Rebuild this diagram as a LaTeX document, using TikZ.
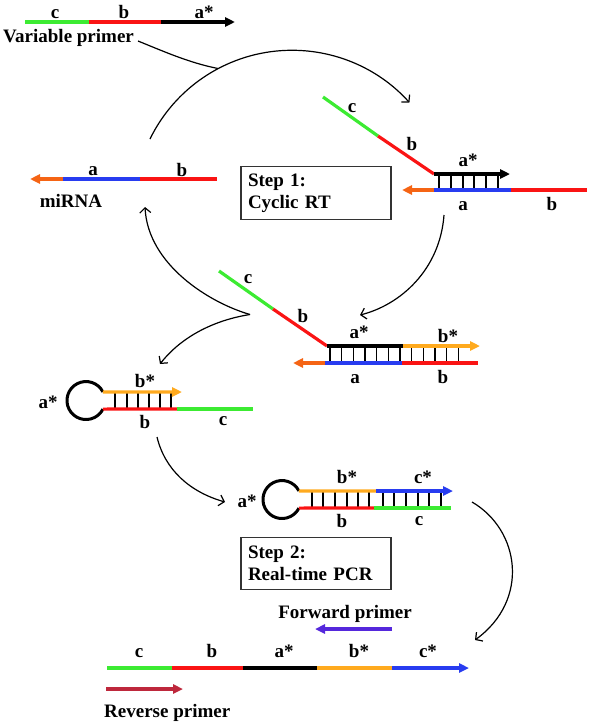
\documentclass[tikz,border=0pt]{standalone}
\usepackage{fontspec}
\setmainfont{Liberation Serif}
\usetikzlibrary{arrows.meta}
\definecolor{cgreen}{RGB}{60,235,50}
\definecolor{cred}{RGB}{250,20,20}
\definecolor{cblue}{RGB}{40,60,240}
\definecolor{corange}{RGB}{245,100,20}
\definecolor{cyellow}{RGB}{255,170,30}
\definecolor{cpurple}{RGB}{85,40,220}
\definecolor{ccrimson}{RGB}{190,40,60}
\begin{document}
\begin{tikzpicture}[x=1pt,y=-1pt,
  strand/.style={line width=3.2pt},
  tipd/.style={-{Triangle[length=10pt,width=9pt]}},
  rung/.style={line width=1.3pt},
  loopc/.style={line width=3pt},
  flow/.style={line width=1.2pt,-{Straight Barb[length=5pt,width=11pt]}},
  flowplain/.style={line width=1.2pt},
  lbl/.style={font=\bfseries\fontsize{19}{22}\selectfont, inner sep=0pt, anchor=base},
  stepbox/.style={draw=black!80, line width=1.2pt, minimum width=150pt, minimum height=52pt,
     align=left, text width=136pt, inner sep=7pt, font=\bfseries\fontsize{19}{22}\selectfont}
]
\useasboundingbox (0,0) rectangle (589,723);

% ---------- top: variable primer ----------
\coordinate (vp0) at (25,22);
\coordinate (vp1) at (89,22);
\coordinate (vp2) at (161,22);
\coordinate (vp3) at (235,22);
\draw[strand,cgreen] (vp0) -- (vp1);
\draw[strand,cred] (vp1) -- (vp2);
\draw[strand,black,tipd] (vp2) -- (vp3);
\node[lbl] (vpc) at (55,18) {c};
\node[lbl] (vpb) at (124,18) {b};
\node[lbl] (vpa) at (204,18) {a*};
\node[lbl,anchor=base west] (vptxt) at (3,42) {Variable primer};

% ---------- miRNA ----------
\coordinate (mi0) at (30,179);
\coordinate (mi1) at (63,179);
\coordinate (mi2) at (140,179);
\coordinate (mi3) at (217,179);
\draw[strand,corange,tipd] (mi1) -- (mi0);
\draw[strand,cblue] (mi1) -- (mi2);
\draw[strand,cred] (mi2) -- (mi3);
\node[lbl] (mia) at (93,175) {a};
\node[lbl] (mib) at (182,176) {b};
\node[lbl] (mitxt) at (71,207) {miRNA};

% ---------- Step 1 box ----------
\node[stepbox] (step1) at (316,193) {Step 1:\\Cyclic RT};

% ---------- cyclic RT duplex ----------
\coordinate (rc0) at (323,97);
\coordinate (rc1) at (378,136);
\coordinate (rc2) at (434,174);
\coordinate (rc3) at (510,174);
\coordinate (rb0) at (402,190);
\coordinate (rb1) at (434,190);
\coordinate (rb2) at (511,190);
\coordinate (rb3) at (587,190);
\foreach \x in {439,451,463,474,486,498} \draw[rung] (\x,174) -- (\x,190);
\draw[strand,cgreen] (rc0) -- (rc1);
\draw[strand,cred] (rc1) -- (rc2);
\draw[strand,black,tipd] (rc2) -- (rc3);
\draw[strand,corange,tipd] (rb1) -- (rb0);
\draw[strand,cblue] (rb1) -- (rb2);
\draw[strand,cred] (rb2) -- (rb3);
\node[lbl] (rcc) at (352,112) {c};
\node[lbl] (rcb) at (412,150) {b};
\node[lbl] (rca) at (468,166) {a*};
\node[lbl] (rba) at (463,210) {a};
\node[lbl] (rbb) at (552,210) {b};

% ---------- extended duplex ----------
\coordinate (mc0) at (219,271);
\coordinate (mc1) at (273,309);
\coordinate (mc2) at (327,346);
\coordinate (mc3) at (403,346);
\coordinate (mc4) at (480,346);
\coordinate (mb0) at (293,363);
\coordinate (mb1) at (325,363);
\coordinate (mb2) at (402,363);
\coordinate (mb3) at (478,363);
\foreach \k in {0,...,11} \draw[rung] (330+11.67*\k,346) -- (330+11.67*\k,363);
\draw[strand,cgreen] (mc0) -- (mc1);
\draw[strand,cred] (mc1) -- (mc2);
\draw[strand,black] (mc2) -- (mc3);
\draw[strand,cyellow,tipd] (mc3) -- (mc4);
\draw[strand,corange,tipd] (mb1) -- (mb0);
\draw[strand,cblue] (mb1) -- (mb2);
\draw[strand,cred] (mb2) -- (mb3);
\node[lbl] (mcc) at (248,283) {c};
\node[lbl] (mcb) at (303,322) {b};
\node[lbl] (mca) at (359,338) {a*};
\node[lbl] (mcbs) at (448,342) {b*};
\node[lbl] (mba) at (355,383) {a};
\node[lbl] (mbb) at (443,383) {b};

% ---------- hairpin 1 ----------
\coordinate (h1t) at (102.9,391.9);
\coordinate (h1b) at (102.9,409.1);
\coordinate (h1t1) at (182,392);
\coordinate (h1b1) at (177,409);
\coordinate (h1b2) at (253,409);
\foreach \x in {115,127,138,149,160,171} \draw[rung] (\x,392) -- (\x,409);
\draw[loopc] (h1t) arc[start angle=-27,end angle=-333,radius=19];
\draw[strand,cyellow,tipd] (h1t) -- (h1t1);
\draw[strand,cred] (h1b) -- (h1b1);
\draw[strand,cgreen] (h1b1) -- (h1b2);
\node[lbl] (h1a) at (48,408) {a*};
\node[lbl] (h1bs) at (145,387) {b*};
\node[lbl] (h1bb) at (145,428) {b};
\node[lbl] (h1c) at (223,425) {c};

% ---------- hairpin 2 ----------
\coordinate (h2t) at (298.9,490.9);
\coordinate (h2b) at (298.9,508.1);
\coordinate (h2t1) at (376,491);
\coordinate (h2t2) at (453,491);
\coordinate (h2b1) at (374,508);
\coordinate (h2b2) at (451,508);
\foreach \x in {312,323,335,347,358,369,383,394,406,418,429,441} \draw[rung] (\x,491) -- (\x,508);
\draw[loopc] (h2t) arc[start angle=-27,end angle=-333,radius=19];
\draw[strand,cyellow] (h2t) -- (h2t1);
\draw[strand,cblue,tipd] (h2t1) -- (h2t2);
\draw[strand,cred] (h2b) -- (h2b1);
\draw[strand,cgreen] (h2b1) -- (h2b2);
\node[lbl] (h2a) at (247,507) {a*};
\node[lbl] (h2bs) at (347,483) {b*};
\node[lbl] (h2cs) at (423,483) {c*};
\node[lbl] (h2bb) at (342,527) {b};
\node[lbl] (h2c) at (419,525) {c};

% ---------- Step 2 box ----------
\node[stepbox] (step2) at (316,563.5) {Step 2:\\Real-time PCR};

% ---------- final product ----------
\node[lbl] (fwdtxt) at (345,618) {Forward primer};
\coordinate (fw0) at (392,629);
\coordinate (fw1) at (315,629);
\draw[strand,cpurple,tipd] (fw0) -- (fw1);
\coordinate (p0) at (107,668);
\coordinate (p1) at (172,668);
\coordinate (p2) at (243,668);
\coordinate (p3) at (317,668);
\coordinate (p4) at (392,668);
\coordinate (p5) at (469,668);
\draw[strand,cgreen] (p0) -- (p1);
\draw[strand,cred] (p1) -- (p2);
\draw[strand,black] (p2) -- (p3);
\draw[strand,cyellow] (p3) -- (p4);
\draw[strand,cblue,tipd] (p4) -- (p5);
\node[lbl] (pc) at (139,657) {c};
\node[lbl] (pb) at (212,657) {b};
\node[lbl] (pa) at (284,657) {a*};
\node[lbl] (pbs) at (359,657) {b*};
\node[lbl] (pcs) at (428,657) {c*};
\coordinate (rv0) at (106,689);
\coordinate (rv1) at (183,689);
\draw[strand,ccrimson,tipd] (rv0) -- (rv1);
\node[lbl,anchor=base west] (revtxt) at (104,717) {Reverse primer};

% ---------- flow arrows ----------
\coordinate (vpf) at (138,41);
\coordinate (join) at (218,68.5);
\coordinate (cycA) at (150,139);
\draw[flowplain] (vpf) .. controls (165,52) and (190,63) .. (join);
\draw[flow] (cycA) arc[start angle=-154,end angle=-42,radius=158];
\coordinate (r0) at (444,215);
\coordinate (r1) at (360,315);
\draw[flow] (r0) .. controls (440,270) and (400,305) .. (r1);
\coordinate (cusp) at (250,314.5);
\coordinate (toMi) at (145,207);
\coordinate (toH1) at (160,364);
\draw[flow] (cusp) .. controls (210,303) and (148,265) .. (toMi);
\draw[flow] (cusp) .. controls (215,320) and (182,336) .. (toH1);
\coordinate (h1out) at (157,437);
\coordinate (toH2) at (225,502);
\draw[flow] (h1out) .. controls (165,470) and (190,492) .. (toH2);
\coordinate (h2out) at (472,502);
\coordinate (toP) at (475,640);
\draw[flow] (h2out) .. controls (520,530) and (530,600) .. (toP);
\end{tikzpicture}
\end{document}
